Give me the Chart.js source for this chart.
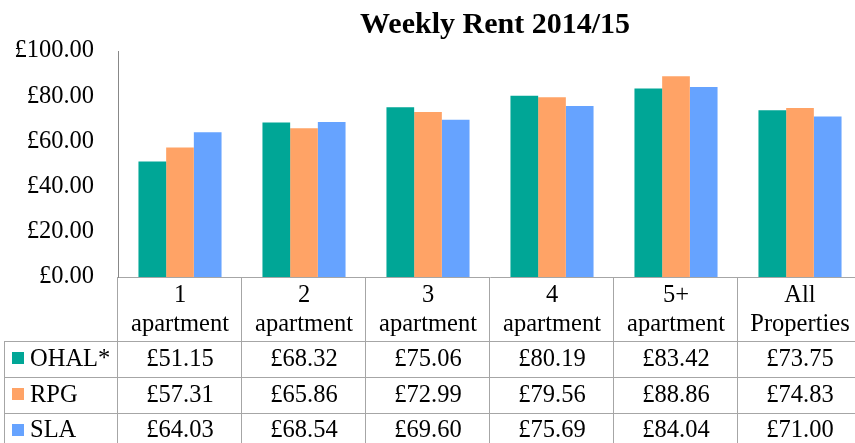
<!DOCTYPE html>
<html>
<head>
<meta charset="utf-8">
<script src="https://cdn.jsdelivr.net/npm/chart.js@4"></script>
<style>
  html, body { margin: 0; padding: 0; background: #fff; overflow: hidden; }
</style>
</head>
<body>
<canvas id="rentChart" width="862" height="450"></canvas>
<script>
const categories = [['1', 'apartment'], ['2', 'apartment'], ['3', 'apartment'], ['4', 'apartment'], ['5+', 'apartment'], ['All', 'Properties']];
const seriesNames = ['OHAL*', 'RPG', 'SLA'];
const ohal = [51.15, 68.32, 75.06, 80.19, 83.42, 73.75];
const rpg = [57.31, 65.86, 72.99, 79.56, 88.86, 74.83];
const sla = [64.03, 68.54, 69.60, 75.69, 84.04, 71.00];
const yTicks = [0, 20, 40, 60, 80, 100];
const colors = ['#00a696', '#ffa366', '#66a3ff'];

const serif = "'Liberation Serif', 'Times New Roman', serif";
const money = v => '£' + v.toFixed(2);

// title + data table underneath the plot
const tablePlugin = {
  id: 'dataTable',
  afterDraw(chart) {
    const ctx = chart.ctx;
    const area = chart.chartArea;
    const colW = (area.right - area.left) / categories.length;
    const top = area.bottom;
    const rowTops = [341, 377, 413, 449];
    const tableLeft = 4;
    ctx.save();

    ctx.fillStyle = '#000';
    ctx.font = 'bold 30px ' + serif;
    ctx.textAlign = 'center';
    ctx.textBaseline = 'alphabetic';
    ctx.fillText('Weekly Rent 2014/15', 495, 33);

    ctx.strokeStyle = '#a6a6a6';
    ctx.lineWidth = 1;
    ctx.beginPath();
    for (let i = 0; i <= categories.length; i++) {
      const x = Math.round(area.left + i * colW) - 0.5;
      ctx.moveTo(x, top);
      ctx.lineTo(x, rowTops[3]);
    }
    ctx.moveTo(tableLeft + 0.5, rowTops[0]);
    ctx.lineTo(tableLeft + 0.5, rowTops[3]);
    rowTops.forEach(y => {
      ctx.moveTo(tableLeft, y + 0.5);
      ctx.lineTo(area.right, y + 0.5);
    });
    ctx.stroke();

    ctx.font = '24.5px ' + serif;
    ctx.fillStyle = '#000';
    ctx.textAlign = 'center';
    categories.forEach((lab, i) => {
      const cx = area.left + (i + 0.5) * colW;
      ctx.fillText(lab[0], cx, 302);
      ctx.fillText(lab[1], cx, 331);
    });

    const baselines = [366, 402, 437];
    [ohal, rpg, sla].forEach((vals, r) => {
      vals.forEach((v, i) => {
        const cx = area.left + (i + 0.5) * colW;
        ctx.textAlign = 'center';
        ctx.fillText(money(v), cx, baselines[r]);
      });
      ctx.fillStyle = colors[r];
      ctx.fillRect(12, rowTops[r] + 11, 12, 12);
      ctx.fillStyle = '#000';
      ctx.textAlign = 'left';
      ctx.fillText(seriesNames[r], 30, baselines[r]);
    });
    ctx.restore();
  }
};

new Chart(document.getElementById('rentChart').getContext('2d'), {
  type: 'bar',
  data: {
    labels: categories,
    datasets: [ohal, rpg, sla].map((vals, i) => ({
      label: seriesNames[i],
      data: vals,
      backgroundColor: colors[i],
      borderWidth: 0,
      categoryPercentage: 0.67,
      barPercentage: 1
    }))
  },
  options: {
    responsive: false,
    animation: false,
    layout: { padding: { top: 51, bottom: 173, left: 0, right: 0 } },
    plugins: {
      legend: { display: false },
      title: { display: false },
      tooltip: { enabled: false }
    },
    scales: {
      x: {
        ticks: { display: false },
        grid: { display: false, drawTicks: false },
        border: { display: true, color: '#a6a6a6' }
      },
      y: {
        min: 0,
        max: 100,
        afterBuildTicks(scale) {
          scale.ticks = yTicks.map(v => ({ value: v }));
        },
        afterFit(scale) {
          scale.width = 118;
        },
        ticks: {
          padding: 24,
          color: '#000',
          font: { family: serif, size: 24.5 },
          callback: v => money(v)
        },
        grid: { display: false, drawTicks: false },
        border: { display: true, color: '#888' }
      }
    }
  },
  plugins: [tablePlugin]
});
</script>
</body>
</html>
